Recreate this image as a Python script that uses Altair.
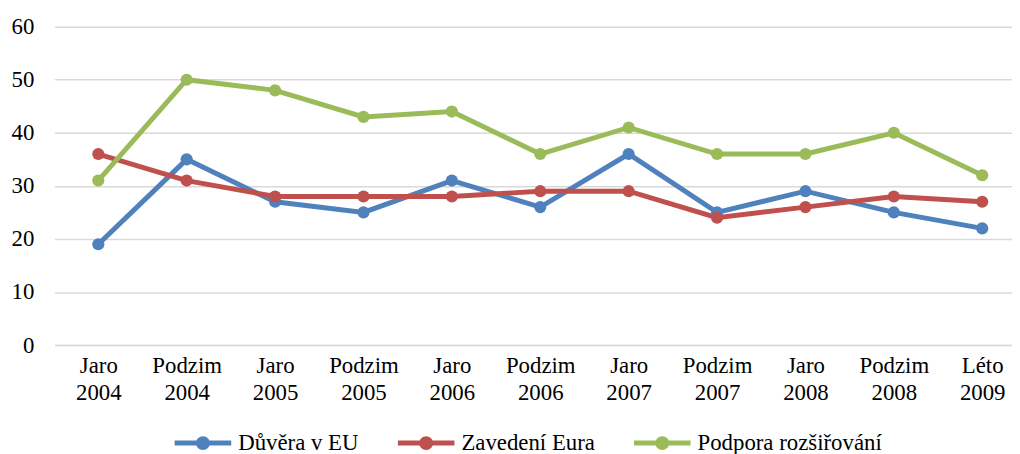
import json
import altair as alt
import pandas as pd

categories = ["Jaro 2004", "Podzim 2004", "Jaro 2005", "Podzim 2005", "Jaro 2006",
              "Podzim 2006", "Jaro 2007", "Podzim 2007", "Jaro 2008", "Podzim 2008", "Léto 2009"]
duvera = [19, 35, 27, 25, 31, 26, 36, 25, 29, 25, 22]
euro = [36, 31, 28, 28, 28, 29, 29, 24, 26, 28, 27]
rozsirovani = [31, 50, 48, 43, 44, 36, 41, 36, 36, 40, 32]
series = ["Důvěra v EU", "Zavedení Eura", "Podpora rozšiřování"]
colors = ["#4F81BD", "#C0504D", "#9BBB59"]
y_ticks = [0, 10, 20, 30, 40, 50, 60]

rows = []
for s, vals in zip(series, [duvera, euro, rozsirovani]):
    for i, (c, v) in enumerate(zip(categories, vals)):
        rows.append({"i": i, "kat": c, "serie": s, "hodnota": v})
df = pd.DataFrame(rows)

FONT = "Liberation Serif, Times New Roman, serif"
FS = 23
# legend symbol: line with a dot, drawn wider than the nominal 20px symbol box
sym = ("M-2.85,-0.25H-0.6V0.25H-2.85Z M0.6,-0.25H2.85V0.25H0.6Z "
       "M0.7,0A0.7,0.7 0 1,1 -0.7,0A0.7,0.7 0 1,1 0.7,0Z")

label_expr = "split(" + json.dumps(categories, ensure_ascii=False) + "[datum.value], ' ')"

x = alt.X("i:Q", title=None,
          scale=alt.Scale(domain=[-0.494, 10.337], nice=False, zero=False),
          axis=alt.Axis(values=list(range(len(categories))), labelExpr=label_expr,
                        labelAngle=0, labelLineHeight=27, labelBaseline="top",
                        labelPadding=10, labelFlush=False, labelOverlap=False,
                        grid=False, ticks=False, domain=True, domainColor="#D9D9D9",
                        domainWidth=1.5, labelFont=FONT, labelFontSize=FS,
                        labelColor="#000000"))
y = alt.Y("hodnota:Q", title=None, scale=alt.Scale(domain=[0, 60], nice=False),
          axis=alt.Axis(values=y_ticks, grid=True, gridColor="#D9D9D9", gridWidth=1.5,
                        domain=False, ticks=False, labelPadding=21, labelFont=FONT,
                        labelFontSize=FS, labelColor="#000000"))
color_scale = alt.Scale(domain=series, range=colors)
legend = alt.Legend(orient="none", legendX=138, legendY=408,
                    direction="horizontal", title=None, padding=0,
                    symbolType=sym, symbolSize=400,
                    symbolStrokeWidth=0, symbolOpacity=1,
                    labelFont=FONT, labelFontSize=FS,
                    labelColor="#000000", labelOffset=24,
                    columnPadding=39, labelLimit=400)
color = alt.Color("serie:N", scale=color_scale, sort=series, legend=legend)

lines = alt.Chart(df).mark_line(strokeWidth=5).encode(
    x=x, y=y, color=color, detail="serie:N",
)
points = alt.Chart(df).mark_circle(size=150, opacity=1).encode(
    x=x, y=y, color=color,
)

chart = alt.layer(lines, points).properties(
    width=965, height=321,
    autosize=alt.AutoSizeParams(type="none"),
    padding={"left": 47, "top": 17, "right": 0, "bottom": 112},
).configure_view(stroke=None)

chart.save("out.html", embed_options={"renderer": "svg", "actions": False})
